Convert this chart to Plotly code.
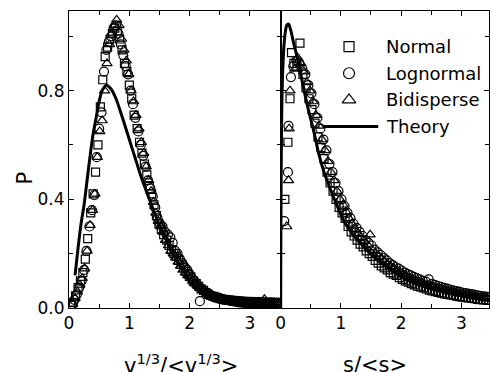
import plotly.graph_objects as go

# ---------------- data: left panel (v^{1/3}/<v^{1/3}>) ----------------
left_normal_x = [0.03,0.07,0.11,0.15,0.19,0.23,0.27,0.31,0.36,0.40,
                 0.44,0.48,0.52,0.56,0.60,0.64,0.68,0.72,0.76,0.80,
                 0.84,0.88,0.92,0.96,1.00,1.04,1.08,1.13,1.17,1.21,
                 1.25,1.29,1.33,1.37,1.41,1.45,1.49,1.53,1.57,1.62,
                 1.66,1.70,1.74,1.78,1.82,1.86,1.90,1.94,1.98,2.02,
                 2.06,2.11,2.15,2.19,2.23,2.27,2.31,2.35,2.39,2.43,
                 2.47,2.51,2.55,2.60,2.64,2.68,2.72,2.76,2.80,2.84,
                 2.88,2.92,2.96,3.00,3.04,3.09,3.13,3.17,3.21,3.25,
                 3.29,3.33,3.37,3.41,3.45]
left_normal_p = [0.010,0.020,0.045,0.075,0.100,0.130,0.180,0.255,0.350,0.420,
                 0.500,0.600,0.740,0.840,0.925,0.960,0.990,1.010,1.030,1.020,
                 0.990,0.950,0.900,0.870,0.820,0.770,0.710,0.660,0.610,0.570,
                 0.530,0.490,0.450,0.420,0.380,0.340,0.310,0.290,0.270,0.250,
                 0.230,0.215,0.200,0.190,0.175,0.160,0.150,0.135,0.125,0.115,
                 0.100,0.090,0.080,0.070,0.065,0.057,0.050,0.046,0.043,0.040,
                 0.037,0.034,0.032,0.030,0.029,0.028,0.026,0.025,0.025,0.024,
                 0.023,0.023,0.022,0.022,0.021,0.022,0.021,0.020,0.021,0.020,
                 0.020,0.019,0.020,0.019,0.018]

left_lognormal_x = [0.05,0.09,0.13,0.17,0.21,0.25,0.29,0.34,0.38,0.42,
                    0.46,0.50,0.54,0.58,0.62,0.66,0.70,0.74,0.78,0.82,
                    0.86,0.90,0.94,0.98,1.02,1.06,1.10,1.15,1.19,1.23,
                    1.27,1.31,1.35,1.39,1.43,1.47,1.51,1.55,1.59,1.64,
                    1.68,1.72,1.76,1.80,1.84,1.88,1.92,1.96,2.00,2.04,
                    2.08,2.13,2.17,2.21,2.25,2.29,2.33,2.37,2.41,2.45,
                    2.49,2.53,2.57,2.62,2.66,2.70,2.74,2.78,2.82,2.86,
                    2.90,2.94,2.98,3.02,3.06,3.11,3.15,3.19,3.23,3.27,
                    3.31,3.35,3.39,3.43,3.47]
left_lognormal_p = [0.012,0.030,0.050,0.075,0.100,0.140,0.210,0.300,0.360,0.415,
                    0.555,0.660,0.720,0.870,0.950,0.980,1.000,1.030,1.040,1.010,
                    0.970,0.930,0.890,0.860,0.800,0.750,0.700,0.650,0.600,0.560,
                    0.520,0.470,0.440,0.410,0.370,0.330,0.310,0.300,0.280,0.270,
                    0.260,0.240,0.210,0.200,0.180,0.165,0.150,0.140,0.125,0.110,
                    0.100,0.085,0.025,0.070,0.062,0.055,0.050,0.045,0.040,0.038,
                    0.035,0.033,0.031,0.030,0.028,0.027,0.026,0.026,0.025,0.024,
                    0.024,0.023,0.023,0.022,0.022,0.022,0.021,0.021,0.021,0.020,
                    0.020,0.020,0.020,0.019,0.019]

left_bidisperse_x = [0.06,0.10,0.14,0.18,0.22,0.26,0.30,0.35,0.39,0.43,
                     0.47,0.51,0.55,0.59,0.63,0.67,0.71,0.75,0.79,0.83,
                     0.87,0.91,0.95,0.99,1.03,1.07,1.11,1.16,1.20,1.24,
                     1.28,1.32,1.36,1.40,1.44,1.48,1.52,1.56,1.60,1.65,
                     1.69,1.73,1.77,1.81,1.85,1.89,1.93,1.97,2.01,2.05,
                     2.09,2.14,2.18,2.22,2.26,2.30,2.34,2.38,2.42,2.46,
                     2.50,2.54,2.58,2.63,2.67,2.71,2.75,2.79,2.83,2.87,
                     2.91,2.95,2.99,3.03,3.07,3.12,3.16,3.20,3.24,3.28,
                     3.32,3.36,3.40,3.44,3.48]
left_bidisperse_p = [0.015,0.035,0.060,0.085,0.110,0.145,0.210,0.305,0.360,0.420,
                     0.555,0.650,0.690,0.800,0.900,0.970,1.010,1.040,1.060,1.040,
                     0.990,0.950,0.910,0.860,0.800,0.760,0.710,0.660,0.610,0.570,
                     0.520,0.470,0.430,0.390,0.350,0.320,0.300,0.280,0.250,0.230,
                     0.210,0.200,0.185,0.170,0.155,0.140,0.130,0.120,0.110,0.100,
                     0.090,0.080,0.072,0.065,0.058,0.052,0.047,0.043,0.040,0.037,
                     0.034,0.032,0.030,0.028,0.027,0.026,0.026,0.025,0.024,0.024,
                     0.023,0.023,0.022,0.023,0.022,0.021,0.022,0.021,0.032,0.021,
                     0.020,0.020,0.020,0.019,0.020]

left_theory_x = [0.10,0.15,0.20,0.25,0.30,0.35,0.40,0.45,0.50,0.55,0.62,0.70,0.78,0.85,
                 0.93,1.00,1.10,1.20,1.30,1.40,1.50,1.60,1.70,1.80,1.90,2.00,2.10,2.20,
                 2.40,2.60,2.80,3.00,3.40]
left_theory_p = [0.12,0.22,0.31,0.38,0.47,0.56,0.64,0.70,0.76,0.80,0.82,0.805,0.77,0.725,
                 0.67,0.62,0.55,0.48,0.42,0.36,0.305,0.255,0.21,0.17,0.135,0.105,0.08,0.06,
                 0.033,0.017,0.008,0.004,0.001]

# ---------------- data: right panel (s/<s>) ----------------
right_normal_x = [0.07,0.12,0.155,0.18,0.22,0.27,0.32,0.37,0.42,0.47,
                  0.52,0.57,0.62,0.67,0.72,0.77,0.82,0.87,0.92,0.97,
                  1.02,1.07,1.12,1.17,1.22,1.27,1.32,1.37,1.42,1.47,
                  1.52,1.57,1.62,1.67,1.72,1.77,1.82,1.87,1.92,1.97,
                  2.02,2.07,2.12,2.17,2.22,2.27,2.32,2.37,2.42,2.47,
                  2.52,2.57,2.62,2.67,2.72,2.77,2.82,2.87,2.92,2.97,
                  3.02,3.07,3.12,3.17,3.22,3.27,3.32,3.37,3.42,3.46]
right_normal_p = [0.40,0.61,0.77,0.94,0.90,0.89,0.975,0.86,0.81,0.77,
                  0.73,0.68,0.63,0.59,0.55,0.50,0.46,0.43,0.40,0.37,
                  0.35,0.33,0.30,0.28,0.265,0.25,0.235,0.225,0.21,0.20,
                  0.19,0.175,0.165,0.155,0.148,0.14,0.13,0.125,0.12,0.112,
                  0.105,0.10,0.095,0.09,0.085,0.08,0.078,0.074,0.07,0.066,
                  0.063,0.06,0.057,0.055,0.052,0.05,0.048,0.046,0.044,0.042,
                  0.04,0.038,0.037,0.035,0.034,0.032,0.031,0.03,0.029,0.028]

right_lognormal_x = [0.06,0.12,0.13,0.17,0.21,0.26,0.31,0.36,0.41,0.46,
                     0.51,0.56,0.61,0.66,0.71,0.76,0.81,0.86,0.91,0.96,
                     1.01,1.06,1.11,1.16,1.21,1.26,1.31,1.36,1.41,1.46,
                     1.51,1.56,1.61,1.66,1.71,1.76,1.81,1.86,1.91,1.96,
                     2.01,2.06,2.11,2.16,2.21,2.26,2.31,2.36,2.41,2.46,
                     2.51,2.56,2.61,2.66,2.71,2.76,2.81,2.86,2.91,2.96,
                     3.01,3.06,3.11,3.16,3.21,3.26,3.31,3.36,3.41,3.46]
right_lognormal_p = [0.32,0.50,0.67,0.85,0.89,0.91,0.90,0.88,0.86,0.82,
                     0.79,0.75,0.70,0.66,0.62,0.58,0.53,0.50,0.46,0.43,
                     0.40,0.375,0.35,0.33,0.31,0.295,0.28,0.265,0.25,0.24,
                     0.23,0.215,0.205,0.195,0.185,0.175,0.165,0.158,0.15,0.145,
                     0.138,0.13,0.125,0.12,0.115,0.11,0.105,0.10,0.097,0.105,
                     0.088,0.085,0.081,0.078,0.074,0.071,0.068,0.065,0.062,0.06,
                     0.057,0.055,0.053,0.051,0.049,0.047,0.045,0.043,0.042,0.04]

right_bidisperse_x = [0.10,0.13,0.14,0.155,0.235,0.285,0.335,0.385,0.435,0.485,
                      0.535,0.585,0.635,0.685,0.735,0.785,0.835,0.885,0.935,0.985,
                      1.035,1.085,1.135,1.185,1.235,1.285,1.335,1.385,1.435,1.485,
                      1.535,1.585,1.635,1.685,1.735,1.785,1.835,1.885,1.935,1.985,
                      2.035,2.085,2.135,2.185,2.235,2.285,2.335,2.385,2.435,2.485,
                      2.535,2.585,2.635,2.685,2.735,2.785,2.835,2.885,2.935,2.985,
                      3.035,3.085,3.135,3.185,3.235,3.285,3.335,3.385,3.435]
right_bidisperse_p = [0.30,0.47,0.66,0.80,0.88,0.92,0.90,0.87,0.83,0.80,
                      0.76,0.71,0.67,0.62,0.58,0.54,0.50,0.47,0.43,0.40,
                      0.38,0.355,0.33,0.31,0.29,0.275,0.26,0.245,0.235,0.27,
                      0.21,0.20,0.19,0.18,0.17,0.16,0.152,0.145,0.138,0.132,
                      0.125,0.118,0.112,0.107,0.102,0.097,0.093,0.089,0.085,0.082,
                      0.078,0.075,0.072,0.069,0.066,0.063,0.061,0.058,0.056,0.053,
                      0.051,0.049,0.047,0.045,0.043,0.041,0.04,0.038,0.036]

right_theory_x = [0.0,0.003,0.006,0.01,0.015,0.02,0.03,0.045,0.06,0.08,0.10,0.13,0.17,0.22,
                  0.29,0.37,0.46,0.55,0.63,0.72,0.82,0.93,1.05,1.2,1.4,1.6,1.8,2.0,
                  2.3,2.6,3.0,3.5]
right_theory_p = [0.0,0.25,0.40,0.55,0.67,0.75,0.85,0.93,0.98,1.02,1.04,1.045,1.02,0.97,
                  0.91,0.82,0.73,0.65,0.57,0.50,0.44,0.38,0.32,0.27,0.22,0.18,0.145,0.115,
                  0.085,0.064,0.045,0.03]

series_names = ["Normal", "Lognormal", "Bidisperse", "Theory"]
x_tick_vals = [0, 1, 2, 3]
y_tick_vals = [0.0, 0.4, 0.8]

# ---------------- styling / layout constants ----------------
FONT = "DejaVu Sans"
SYMBOLS = ["square-open", "circle-open", "triangle-up-open"]
SIZES = [8, 9, 9]
LEG_SIZES = [10, 11, 12]
LEG_MARK_X = 1.135
LEG_TEXT_X = 1.72
LEG_ROWS_Y = [0.962, 0.864, 0.766, 0.668]
LEG_LINE_X = [0.71, 1.62]

fig = go.Figure()

left_sets = [(left_normal_x, left_normal_p), (left_lognormal_x, left_lognormal_p),
             (left_bidisperse_x, left_bidisperse_p)]
right_sets = [(right_normal_x, right_normal_p), (right_lognormal_x, right_lognormal_p),
              (right_bidisperse_x, right_bidisperse_p)]

for i, (xs, ps) in enumerate(left_sets):
    fig.add_trace(go.Scatter(x=xs, y=ps, mode="markers", xaxis="x", yaxis="y",
                             name=series_names[i], showlegend=False,
                             marker=dict(symbol=SYMBOLS[i], size=SIZES[i], color="black",
                                         line=dict(width=1.2, color="black"))))
for i, (xs, ps) in enumerate(right_sets):
    fig.add_trace(go.Scatter(x=xs, y=ps, mode="markers", xaxis="x2", yaxis="y2",
                             name=series_names[i], showlegend=False,
                             marker=dict(symbol=SYMBOLS[i], size=SIZES[i], color="black",
                                         line=dict(width=1.2, color="black"))))

fig.add_trace(go.Scatter(x=left_theory_x, y=left_theory_p, mode="lines", xaxis="x", yaxis="y",
                         line=dict(color="black", width=3, shape="spline", smoothing=0.8),
                         showlegend=False, name="Theory"))
fig.add_trace(go.Scatter(x=right_theory_x, y=right_theory_p, mode="lines", xaxis="x2", yaxis="y2",
                         line=dict(color="black", width=3, shape="spline", smoothing=0.8),
                         showlegend=False, name="Theory"))

# legend (drawn by hand in the right panel)
for i in range(3):
    fig.add_trace(go.Scatter(x=[LEG_MARK_X], y=[LEG_ROWS_Y[i]], mode="markers",
                             xaxis="x2", yaxis="y2", showlegend=False, hoverinfo="skip",
                             marker=dict(symbol=SYMBOLS[i], size=LEG_SIZES[i], color="black",
                                         line=dict(width=1.2, color="black"))))
fig.add_shape(type="line", xref="x2", yref="y2", x0=LEG_LINE_X[0], x1=LEG_LINE_X[1],
              y0=LEG_ROWS_Y[3], y1=LEG_ROWS_Y[3], line=dict(color="black", width=3))

annotations = []
for i, name in enumerate(series_names):
    annotations.append(dict(text=name, xref="x2", yref="y2", x=LEG_TEXT_X, y=LEG_ROWS_Y[i],
                            xanchor="left", yanchor="middle", showarrow=False,
                            font=dict(family=FONT, size=18, color="black")))
annotations.append(dict(text="P", xref="paper", yref="paper", x=-0.107, y=0.436,
                        textangle=-90, showarrow=False, xanchor="center", yanchor="middle",
                        font=dict(family=FONT, size=21, color="black")))
annotations.append(dict(text="v<sup>1/3</sup>/&lt;v<sup>1/3</sup>&gt;", xref="paper", yref="paper",
                        x=0.267, y=-0.187, showarrow=False, xanchor="center", yanchor="middle",
                        font=dict(family=FONT, size=21, color="black")))
annotations.append(dict(text="s/&lt;s&gt;", xref="paper", yref="paper",
                        x=0.729, y=-0.192, showarrow=False, xanchor="center", yanchor="middle",
                        font=dict(family=FONT, size=21, color="black")))

axis_common = dict(showline=True, linecolor="black", linewidth=1, mirror="ticks",
                   ticks="inside", ticklen=5, tickwidth=1, tickcolor="black",
                   showgrid=False, zeroline=False,
                   tickfont=dict(family=FONT, size=17, color="black"))

fig.update_layout(
    width=490, height=372,
    margin=dict(l=69, r=1, t=11, b=64),
    paper_bgcolor="white", plot_bgcolor="white",
    showlegend=False,
    xaxis=dict(domain=[0, 0.504], range=[0, 3.51], anchor="y", tickvals=x_tick_vals,
               minor=dict(ticks="inside", dtick=0.5, tick0=0, ticklen=4, tickcolor="black"),
               **axis_common),
    xaxis2=dict(domain=[0.504, 1.0], range=[0, 3.46], anchor="y2", tickvals=x_tick_vals,
                minor=dict(ticks="inside", dtick=0.5, tick0=0, ticklen=4, tickcolor="black"),
                **axis_common),
    yaxis=dict(range=[0, 1.093], anchor="x", tickvals=y_tick_vals, tickformat=".1f",
               minor=dict(ticks="inside", dtick=0.2, tick0=0, ticklen=4, tickcolor="black"),
               **axis_common),
    yaxis2=dict(range=[0, 1.093], anchor="x2", tickvals=y_tick_vals, showticklabels=False,
                minor=dict(ticks="inside", dtick=0.2, tick0=0, ticklen=4, tickcolor="black"),
                **axis_common),
    annotations=annotations,
)

fig.write_html("out.html")
